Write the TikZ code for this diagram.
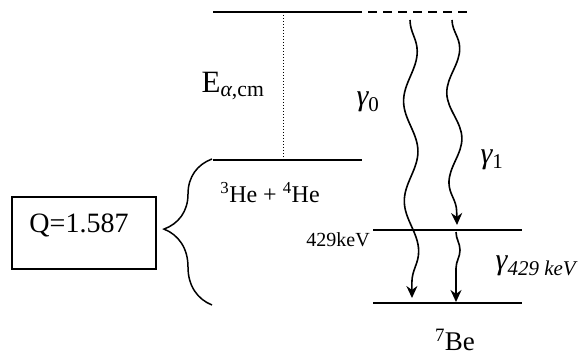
\documentclass[tikz,border=0pt]{standalone}
\usepackage{fontspec}
\setmainfont{Liberation Serif}
\usetikzlibrary{decorations.pathmorphing,decorations.pathreplacing,arrows.meta}
\tikzset{
  level/.style={line width=2.8pt},
  thin level/.style={line width=1.8pt},
  wave/.style={line width=1.6pt, decorate,
    decoration={snake, segment length=100pt, amplitude=7pt, post length=10pt},
    -{Stealth[length=12pt,width=11pt]}},
  lbl/.style={inner sep=0pt, font=\fontsize{30}{32}\selectfont},
  small lbl/.style={inner sep=0pt, font=\fontsize{20}{22}\selectfont},
  qbox/.style={draw, line width=1.6pt, minimum width=144pt, minimum height=72pt, inner sep=0pt}
}
\begin{document}
\begin{tikzpicture}[x=1pt,y=1pt]
\useasboundingbox (0,0) rectangle (580,356);
% levels
\coordinate (top-l) at (213,344);
\coordinate (top-m) at (353,344);
\coordinate (top-r) at (470,344);
\coordinate (he-l) at (213,196);
\coordinate (he-r) at (362,196);
\coordinate (ex-l) at (373,126);
\coordinate (ex-r) at (522,126);
\coordinate (gs-l) at (373,53);
\coordinate (gs-r) at (522,53);
\draw[level] (top-l) -- (top-m);
\draw[level, dash pattern=on 9pt off 6pt] (top-m) -- (top-r);
\draw[level] (he-l) -- (he-r);
\draw[thin level] (ex-l) -- (ex-r);
\draw[level] (gs-l) -- (gs-r);
\draw[line width=1pt, dotted] (283,344) -- (283,196);

% transitions
\coordinate (g0-s) at (410,336);
\coordinate (g0-e) at (412,58);
\coordinate (g1-s) at (452,336);
\coordinate (g1-e) at (457,131);
\coordinate (g2-s) at (456,124);
\coordinate (g2-e) at (456,54);
\draw[wave] (g0-s) -- (g0-e);
\draw[wave, decoration={segment length=90pt}] (g1-s) -- (g1-e);
\draw[wave, decoration={segment length=58pt, amplitude=4pt, post length=9pt}] (g2-s) -- (g2-e);

% labels
\node[lbl, font=\fontsize{31}{33}\selectfont] (ecm) at (233,270) {E\textsubscript{\itshape α\upshape,cm}};
\node[lbl] (g0) at (368,254) {\itshape γ\upshape\textsubscript{0}};
\node[lbl] (g1) at (492,196) {\itshape γ\upshape\textsubscript{1}};
\node[lbl, font=\fontsize{24}{26}\selectfont] (he) at (270,163) {\textsuperscript{3}He + \textsuperscript{4}He};
\node[small lbl, anchor=east] (ex) at (370,116) {429keV};
\node[lbl] (g429) at (536,90) {\itshape γ\upshape\textsubscript{\itshape 429 keV}};
\node[lbl, font=\fontsize{27}{29}\selectfont] (be) at (455,16) {\textsuperscript{7}Be};

% Q value
\node[qbox] (q) at (84,123) {};
\node[lbl, font=\fontsize{28}{30}\selectfont] (qval) at (79,131) {Q=1.587};
\draw[line width=1.5pt, decorate, decoration={brace, amplitude=48pt, aspect=0.52}]
  (212,51) -- (212,197);
\end{tikzpicture}
\end{document}
